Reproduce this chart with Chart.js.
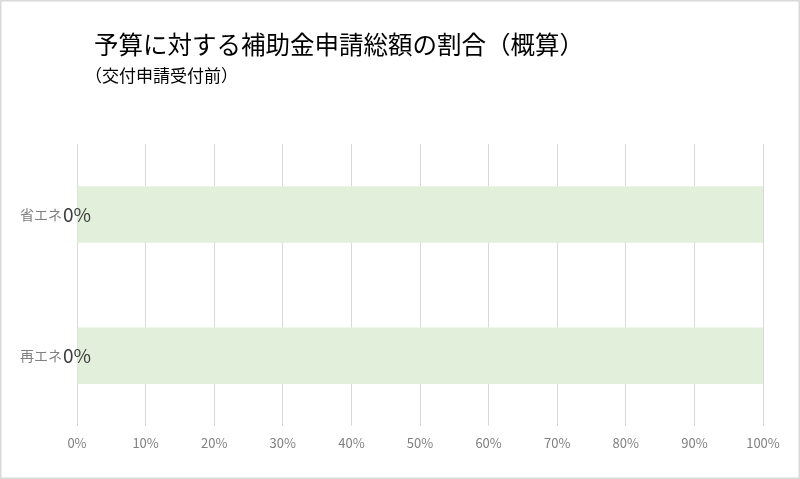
<!DOCTYPE html>
<html>
<head>
<meta charset="utf-8">
<script src="https://cdn.jsdelivr.net/npm/chart.js@4"></script>
<style>
  html, body { margin: 0; padding: 0; background: #fff; }
  #wrap { width: 800px; height: 479px; }
</style>
</head>
<body>
<div id="wrap"><canvas id="ratioChart" width="800" height="479"></canvas></div>
<script>
/* ------------------------------------------------------------
   データ
------------------------------------------------------------ */
const categories = ['省エネ', '再エネ'];
const appliedPct = [0, 0];        // 申請総額の割合（%）
const budgetPct  = [100, 100];    // 予算（背景バー）
const xTicks     = [0, 10, 20, 30, 40, 50, 60, 70, 80, 90, 100];

const titleText    = '予算に対する補助金申請総額の割合（概算）';
const subtitleText = '（交付申請受付前）';

const FONT = "'Noto Sans CJK JP', 'Noto Sans', sans-serif";

/* ------------------------------------------------------------
   プラグイン – タイトル・枠線・データラベル
------------------------------------------------------------ */
const headerPlugin = {
    id: 'header',
    afterDraw(chart) {
        const { ctx, width, height } = chart;
        ctx.save();
        ctx.fillStyle = '#000';
        ctx.textBaseline = 'middle';
        ctx.textAlign = 'left';
        ctx.font = `24.5px ${FONT}`;
        ctx.fillText(titleText, 94, 45);
        ctx.font = `17px ${FONT}`;
        ctx.fillText(subtitleText, 85, 76);
        ctx.strokeStyle = '#d9d9d9';
        ctx.lineWidth = 1.5;
        ctx.strokeRect(0.75, 0.75, width - 1.5, height - 1.5);
        ctx.restore();
    }
};

const valueLabelPlugin = {
    id: 'valueLabel',
    afterDatasetsDraw(chart) {
        const { ctx } = chart;
        const meta = chart.getDatasetMeta(0);
        ctx.save();
        ctx.fillStyle = '#404040';
        ctx.font = `19px ${FONT}`;
        ctx.textAlign = 'center';
        ctx.textBaseline = 'middle';
        meta.data.forEach((bar, i) => {
            ctx.fillText(appliedPct[i] + '%', bar.x, bar.y);
        });
        ctx.restore();
    }
};

/* ------------------------------------------------------------
   グラフ
------------------------------------------------------------ */
new Chart(document.getElementById('ratioChart'), {
    type: 'bar',
    data: {
        labels: categories,
        datasets: [
            { label: '申請総額', data: appliedPct, backgroundColor: '#70ad47' },
            { label: '予算',     data: budgetPct,  backgroundColor: '#e2efda' }
        ]
    },
    options: {
        indexAxis: 'y',
        responsive: false,
        animation: false,
        layout: { padding: { top: 144, right: 37, bottom: 19, left: 0 } },
        datasets: { bar: { barPercentage: 0.4, categoryPercentage: 1, grouped: false } },
        plugins: {
            legend: { display: false },
            title: { display: false },
            tooltip: { enabled: false }
        },
        scales: {
            x: {
                min: 0, max: 100,
                afterBuildTicks: s => { s.ticks = xTicks.map(v => ({ value: v })); },
                grid: { color: '#d9d9d9', drawTicks: false },
                border: { display: false },
                ticks: {
                    padding: 9,
                    color: '#808080',
                    font: { family: FONT, size: 13 },
                    callback: v => v + '%'
                }
            },
            y: {
                afterFit: s => { s.width = 77; },
                grid: { display: false, drawTicks: false },
                border: { display: false },
                ticks: {
                    padding: 15,
                    color: '#808080',
                    font: { family: FONT, size: 14 }
                }
            }
        }
    },
    plugins: [headerPlugin, valueLabelPlugin]
});
</script>
</body>
</html>
